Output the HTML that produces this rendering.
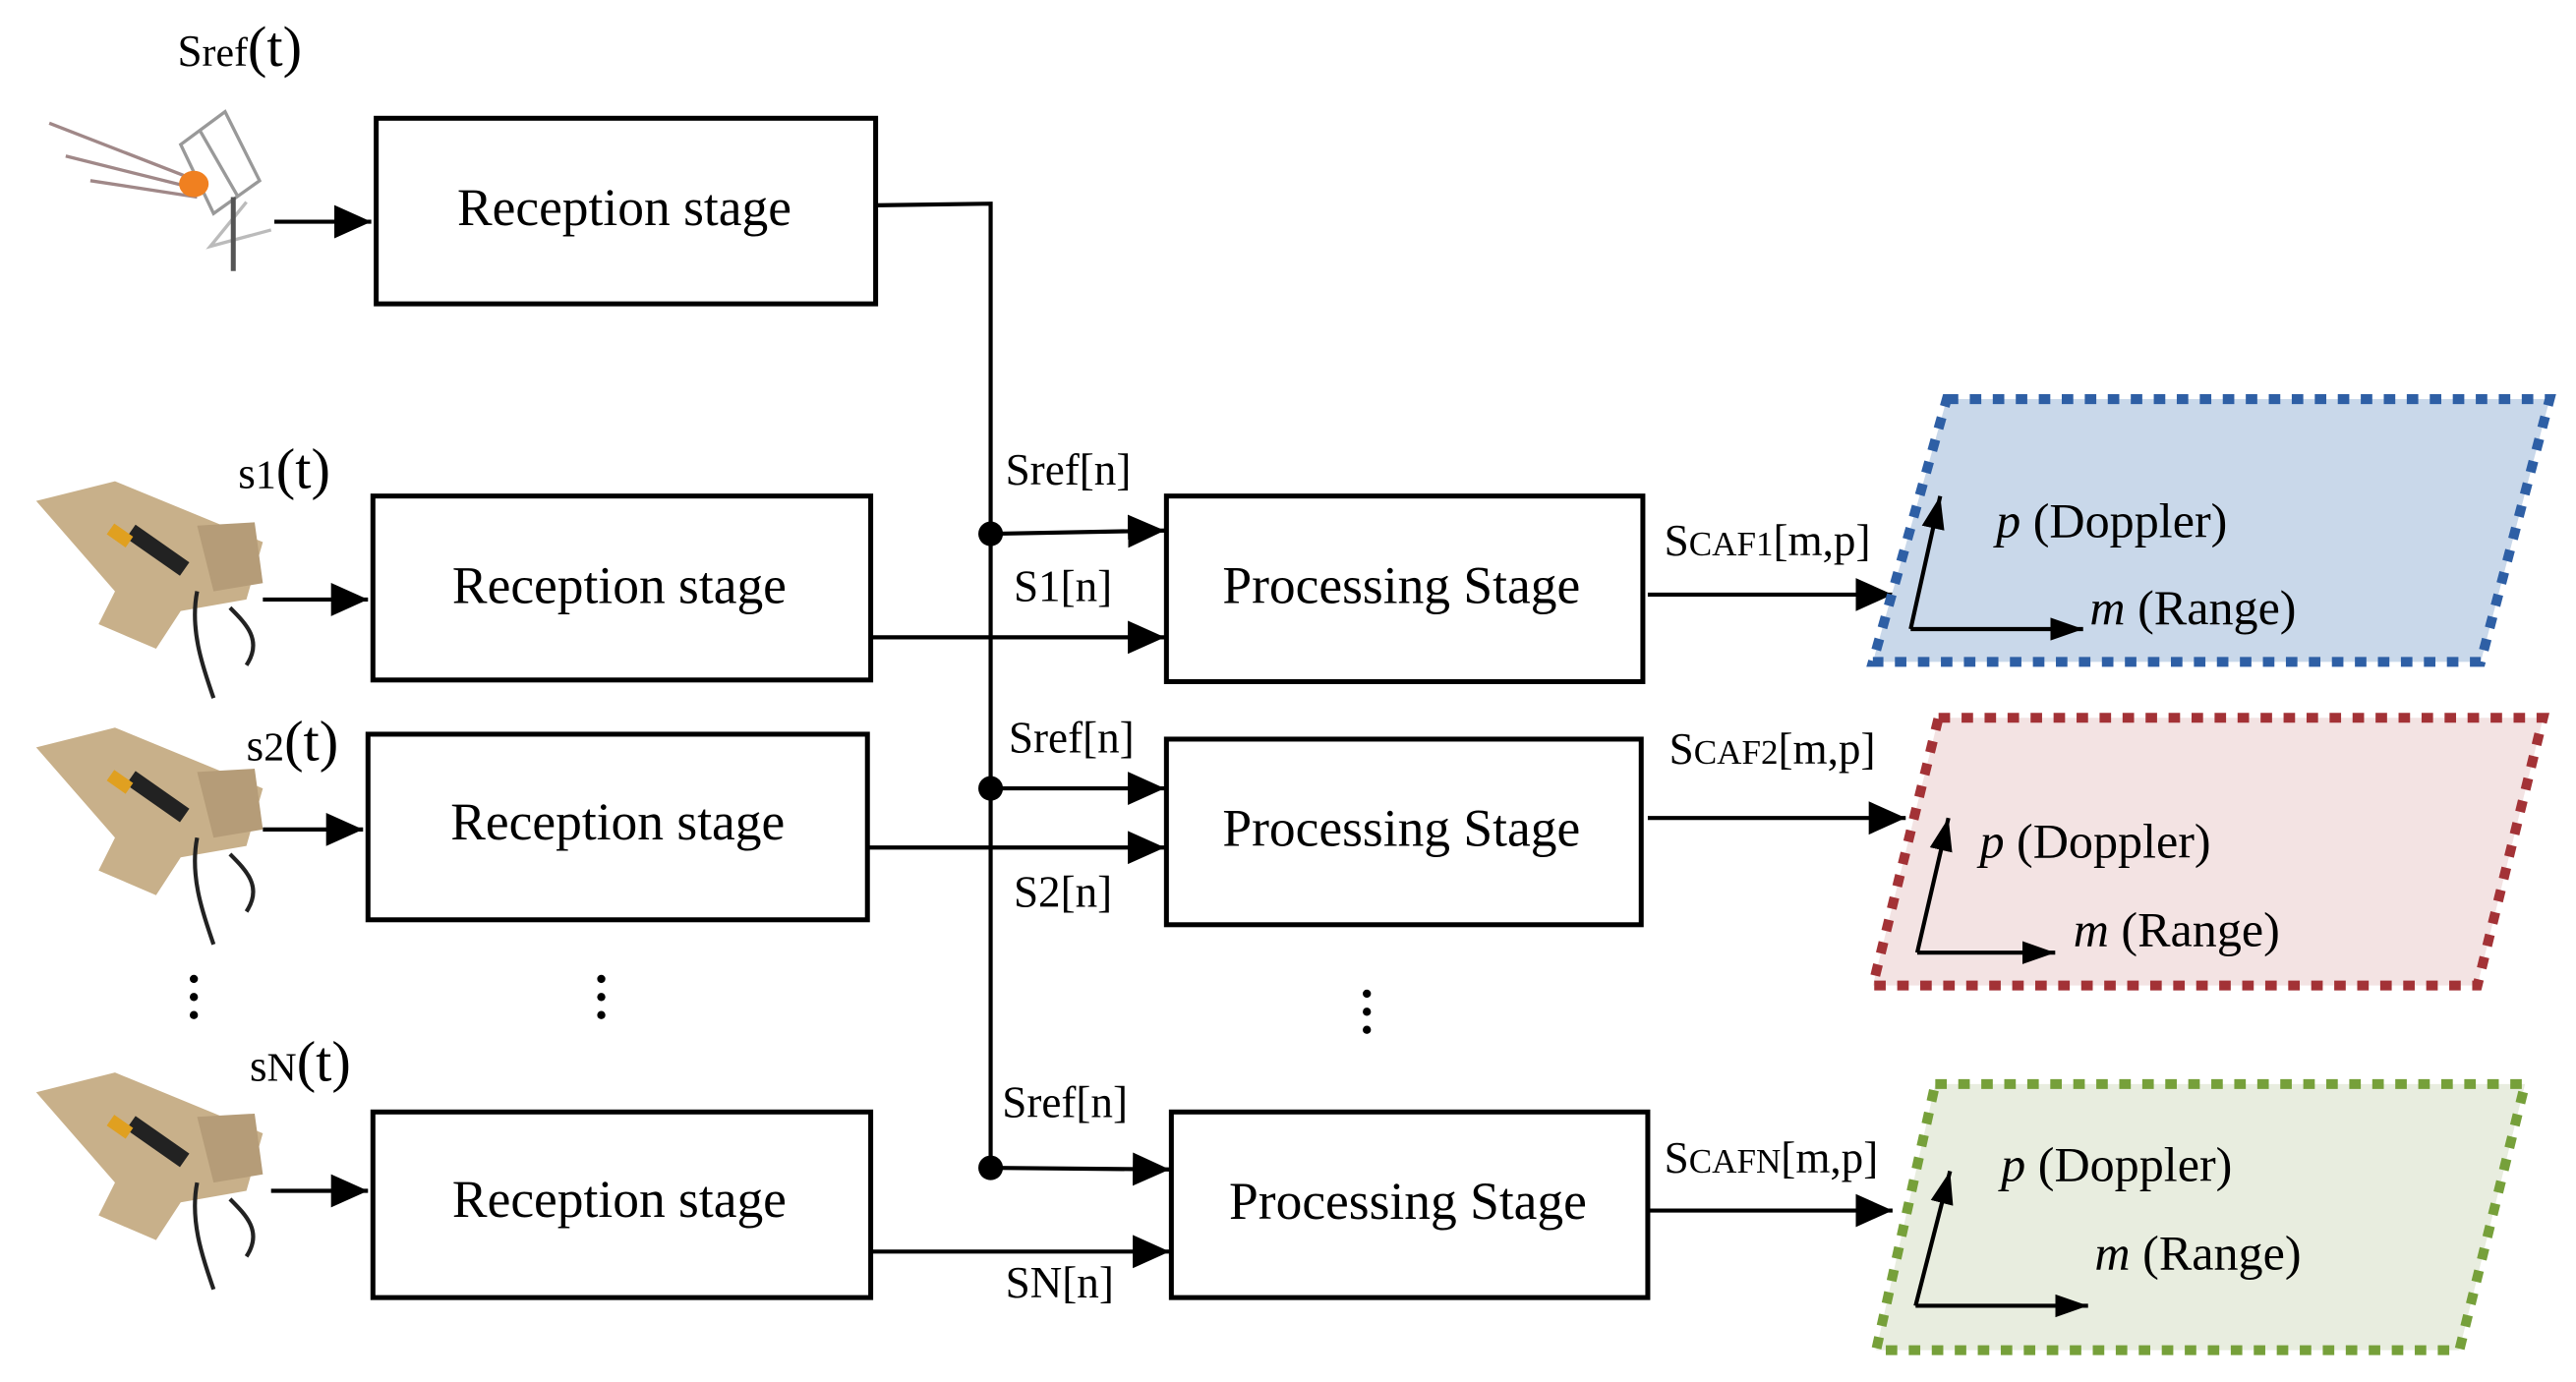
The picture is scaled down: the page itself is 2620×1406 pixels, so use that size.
<!DOCTYPE html>
<html><head><meta charset="utf-8"><style>
html,body{margin:0;padding:0;background:#fff;width:2620px;height:1406px;overflow:hidden}
svg{display:block}
text{font-family:"Liberation Serif",serif;fill:#000}
</style></head><body>
<svg width="2620" height="1406" viewBox="0 0 1568 841.4" preserveAspectRatio="none" xmlns="http://www.w3.org/2000/svg">
<defs>
<marker id="a" viewBox="0 0 10 10" refX="10" refY="5" markerWidth="9" markerHeight="9" orient="auto" markerUnits="strokeWidth"><path d="M0,0.5L10,5L0,9.5z" fill="#000"/></marker>
<marker id="b" viewBox="0 0 10 10" refX="10" refY="5" markerWidth="8" markerHeight="8" orient="auto" markerUnits="strokeWidth"><path d="M0,1.5L10,5L0,8.5z" fill="#000"/></marker>
<g id="ant">
<path d="M22,305 L70,293 L160,330 L150,365 L110,372 L95,395 L60,380 L70,360 Z" fill="#c8b08a"/>
<path d="M120,320 L155,318 L160,355 L130,360Z" fill="#b59c78"/>
<rect x="76" y="330" width="40" height="10" transform="rotate(35 96 335)" fill="#222"/>
<rect x="66" y="322" width="14" height="8" transform="rotate(35 73 326)" fill="#e0a020"/>
<path d="M120,360 C115,385 125,410 130,425 M140,370 C150,380 160,390 150,405" stroke="#222" stroke-width="2.5" fill="none"/>
</g>
</defs>
<g stroke="#000" stroke-width="3" fill="none">
<rect x="229" y="72" width="304" height="113"/>
<rect x="227" y="302" width="303" height="112"/>
<rect x="224" y="447" width="304" height="113"/>
<rect x="227" y="677" width="303" height="113"/>
<rect x="710" y="302" width="290" height="113"/>
<rect x="710" y="450" width="289" height="113"/>
<rect x="713" y="677" width="290" height="113"/>
</g>
<g stroke="#000" stroke-width="2.5" fill="none">
<polyline points="533,125 603,124 603,712"/>
<line x1="167" y1="135" x2="226" y2="135" marker-end="url(#a)"/>
<line x1="160" y1="365" x2="224" y2="365" marker-end="url(#a)"/>
<line x1="160" y1="505" x2="221" y2="505" marker-end="url(#a)"/>
<line x1="165" y1="725" x2="224" y2="725" marker-end="url(#a)"/>
<line x1="603" y1="325" x2="709" y2="323" marker-end="url(#a)"/>
<line x1="530" y1="388" x2="709" y2="388" marker-end="url(#a)"/>
<line x1="603" y1="480" x2="709" y2="480" marker-end="url(#a)"/>
<line x1="528" y1="516" x2="709" y2="516" marker-end="url(#a)"/>
<line x1="603" y1="711" x2="712" y2="712" marker-end="url(#a)"/>
<line x1="530" y1="762" x2="712" y2="762" marker-end="url(#a)"/>
<line x1="1003" y1="362" x2="1152" y2="362" marker-end="url(#a)"/>
<line x1="1003" y1="498" x2="1160" y2="498" marker-end="url(#a)"/>
<line x1="1003" y1="737" x2="1152" y2="737" marker-end="url(#a)"/>
</g>
<g fill="#000"><circle cx="603" cy="325" r="7.5"/><circle cx="603" cy="480" r="7.5"/><circle cx="603" cy="711" r="7.5"/></g>
<polygon points="1185,243 1552,243 1510,403 1140,403" fill="#c9d8ea" stroke="#2e5fa5" stroke-width="6" stroke-dasharray="7,7"/>
<polygon points="1180,437 1548,437 1508,600 1140,600" fill="#f3e3e3" stroke="#a33236" stroke-width="6" stroke-dasharray="7,7"/>
<polygon points="1178,660 1537,660 1497,822 1142,822" fill="#e8eddf" stroke="#76a03a" stroke-width="6" stroke-dasharray="7,7"/>
<g stroke="#000" stroke-width="2.5" fill="none">
<line x1="1163" y1="383" x2="1181" y2="302" marker-end="url(#b)"/><line x1="1163" y1="383" x2="1268" y2="383" marker-end="url(#b)"/>
<line x1="1167" y1="580" x2="1186" y2="498" marker-end="url(#b)"/><line x1="1167" y1="580" x2="1251" y2="580" marker-end="url(#b)"/>
<line x1="1166" y1="795" x2="1187" y2="713" marker-end="url(#b)"/><line x1="1166" y1="795" x2="1271" y2="795" marker-end="url(#b)"/>
</g>
<g stroke="#a08888" stroke-width="2" fill="none">
<line x1="30" y1="75" x2="120" y2="110"/><line x1="40" y1="95" x2="120" y2="115"/><line x1="55" y1="110" x2="120" y2="120"/>
<polygon points="110,88 137,68 158,110 130,130" stroke="#999"/><line x1="122" y1="80" x2="145" y2="120" stroke="#999"/>
<polyline points="165,140 128,150 150,123" stroke="#bbb"/>
</g>
<ellipse cx="118" cy="112" rx="9" ry="8" fill="#f08020"/>
<line x1="142" y1="120" x2="142" y2="165" stroke="#555" stroke-width="3"/>
<use href="#ant" transform="translate(0,0)"/>
<use href="#ant" transform="translate(0,150)"/>
<use href="#ant" transform="translate(0,360)"/>
<g font-size="32">
<text x="380" y="137" text-anchor="middle">Reception stage</text>
<text x="377" y="367" text-anchor="middle">Reception stage</text>
<text x="376" y="511" text-anchor="middle">Reception stage</text>
<text x="377" y="741" text-anchor="middle">Reception stage</text>
<text x="853" y="367" text-anchor="middle">Processing Stage</text>
<text x="853" y="515" text-anchor="middle">Processing Stage</text>
<text x="857" y="742" text-anchor="middle">Processing Stage</text>
</g>
<g font-size="27">
<text x="108" y="40">S<tspan font-size="25">ref</tspan><tspan font-size="35">(t)</tspan></text>
<text x="145" y="297">s<tspan font-size="25">1</tspan><tspan font-size="35">(t)</tspan></text>
<text x="150" y="463">s<tspan font-size="25">2</tspan><tspan font-size="35">(t)</tspan></text>
<text x="152" y="658">s<tspan font-size="25">N</tspan><tspan font-size="35">(t)</tspan></text>
<text x="612" y="295">Sref[n]</text>
<text x="617" y="366">S1[n]</text>
<text x="614" y="458">Sref[n]</text>
<text x="617" y="552">S2[n]</text>
<text x="610" y="680">Sref[n]</text>
<text x="612" y="790">SN[n]</text>
<text x="1013" y="338">S<tspan font-size="21">CAF1</tspan>[m,p]</text>
<text x="1016" y="465">S<tspan font-size="21">CAF2</tspan>[m,p]</text>
<text x="1013" y="714">S<tspan font-size="21">CAFN</tspan>[m,p]</text>
</g>
<g font-size="30">
<text x="1215" y="327"><tspan font-style="italic">p</tspan> (Doppler)</text>
<text x="1272" y="380"><tspan font-style="italic">m</tspan> (Range)</text>
<text x="1205" y="522"><tspan font-style="italic">p</tspan> (Doppler)</text>
<text x="1262" y="576"><tspan font-style="italic">m</tspan> (Range)</text>
<text x="1218" y="719"><tspan font-style="italic">p</tspan> (Doppler)</text>
<text x="1275" y="773"><tspan font-style="italic">m</tspan> (Range)</text>
</g>
<g fill="#000">
<circle cx="118" cy="596" r="2.5"/><circle cx="118" cy="607" r="2.5"/><circle cx="118" cy="618" r="2.5"/>
<circle cx="366" cy="596" r="2.5"/><circle cx="366" cy="607" r="2.5"/><circle cx="366" cy="618" r="2.5"/>
<circle cx="832" cy="605" r="2.5"/><circle cx="832" cy="616" r="2.5"/><circle cx="832" cy="627" r="2.5"/>
</g>
</svg>
</body></html>
